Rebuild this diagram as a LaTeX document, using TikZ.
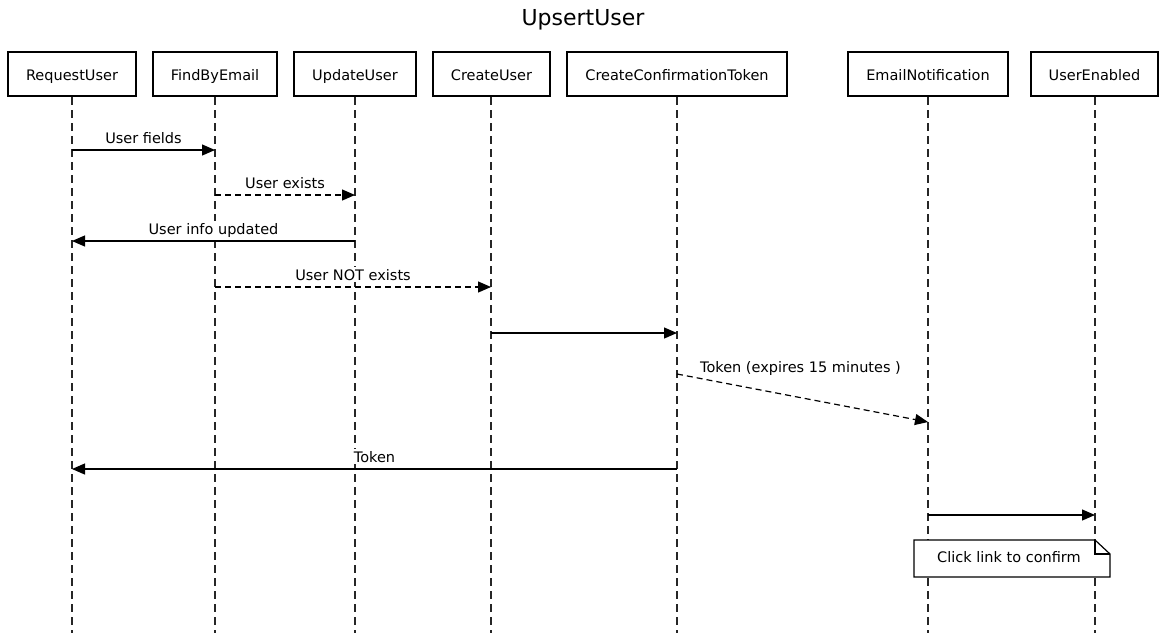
\documentclass[tikz,border=0pt]{standalone}
\usepackage{fontspec}
\setmainfont{DejaVu Sans}
\usetikzlibrary{arrows.meta}
\begin{document}
\begin{tikzpicture}[x=1pt,y=-1pt,
  actor/.style={draw, line width=2.5pt, minimum height=44pt, inner sep=0pt, text height=15pt, text depth=3pt, font=\fontsize{14.5}{16}\selectfont},
  life/.style={line width=1.2pt, dash pattern=on 8pt off 5pt, draw=black!85},
  msg/.style={line width=1.2pt, -{Triangle[length=13pt,width=11pt]}},
  ret/.style={msg, dash pattern=on 6pt off 4pt},
  lbl/.style={font=\fontsize{14.5}{16}\selectfont, inner xsep=2pt, inner ysep=2pt, fill=white}]
\useasboundingbox (0,0) rectangle (1167,633);
\fill[white] (0,0) rectangle (1167,633);
\node[font=\fontsize{22}{26}\selectfont, inner sep=0pt, anchor=base] (title) at (583,25) {UpsertUser};
% actors
\node[actor, minimum width=128pt] (ru) at (72,74) {RequestUser};
\node[actor, minimum width=124pt] (fe) at (215,74) {FindByEmail};
\node[actor, minimum width=122pt] (uu) at (355,74) {UpdateUser};
\node[actor, minimum width=117pt] (cu) at (491.5,74) {CreateUser};
\node[actor, minimum width=220pt] (ct) at (677,74) {CreateConfirmationToken};
\node[actor, minimum width=160pt] (en) at (928,74) {EmailNotification};
\node[actor, minimum width=127pt] (ue) at (1094.5,74) {UserEnabled};
% lifeline ends
\coordinate (ru-e) at (72,633);
\coordinate (fe-e) at (215,633);
\coordinate (uu-e) at (355,633);
\coordinate (cu-e) at (491,633);
\coordinate (ct-e) at (677,633);
\coordinate (en-e) at (928,633);
\coordinate (ue-e) at (1095,633);
\draw[life] (ru.south) -- (ru-e);
\draw[life] (fe.south) -- (fe-e);
\draw[life] (uu.south) -- (uu-e);
\draw[life] ([xshift=-0.5pt]cu.south) -- (cu-e);
\draw[life] (ct.south) -- (ct-e);
\draw[life] (en.south) -- (en-e);
\draw[life] ([xshift=0.5pt]ue.south) -- (ue-e);
% message points
\coordinate (m1a) at (72,150);  \coordinate (m1b) at (215,150);
\coordinate (m2a) at (215,195); \coordinate (m2b) at (355,195);
\coordinate (m3a) at (355,241); \coordinate (m3b) at (72,241);
\coordinate (m4a) at (215,287); \coordinate (m4b) at (491,287);
\coordinate (m5a) at (491,333); \coordinate (m5b) at (677,333);
\coordinate (m6a) at (677,374); \coordinate (m6b) at (928,422);
\coordinate (m7a) at (677,469); \coordinate (m7b) at (72,469);
\coordinate (m8a) at (928,515); \coordinate (m8b) at (1095,515);
% messages
\draw[msg] (m1a) -- node[lbl, anchor=base, yshift=7pt] {User fields} (m1b);
\draw[ret] (m2a) -- node[lbl, anchor=base, yshift=7pt] {User exists} (m2b);
\draw[msg] (m3a) -- node[lbl, anchor=base, yshift=7pt] {User info updated} (m3b);
\draw[ret] (m4a) -- node[lbl, anchor=base, yshift=7pt] {User NOT exists} (m4b);
\draw[msg] (m5a) -- (m5b);
\draw[ret] (m6a) -- node[lbl, anchor=base, yshift=26pt, xshift=-2pt] {Token (expires 15 minutes )} (m6b);
\draw[msg] (m7a) -- node[lbl, anchor=base, yshift=7pt] {Token} (m7b);
\draw[msg] (m8a) -- (m8b);
% note
\draw[line width=1.2pt, fill=white] (914,540) -- (1095,540) -- (1110,554) -- (1110,577) -- (914,577) -- cycle;
\draw[line width=1.2pt] (1095,540) -- (1095,554) -- (1110,554);
\node[lbl, fill=none] (note) at (1009,557) {Click link to confirm};
\end{tikzpicture}
\end{document}
